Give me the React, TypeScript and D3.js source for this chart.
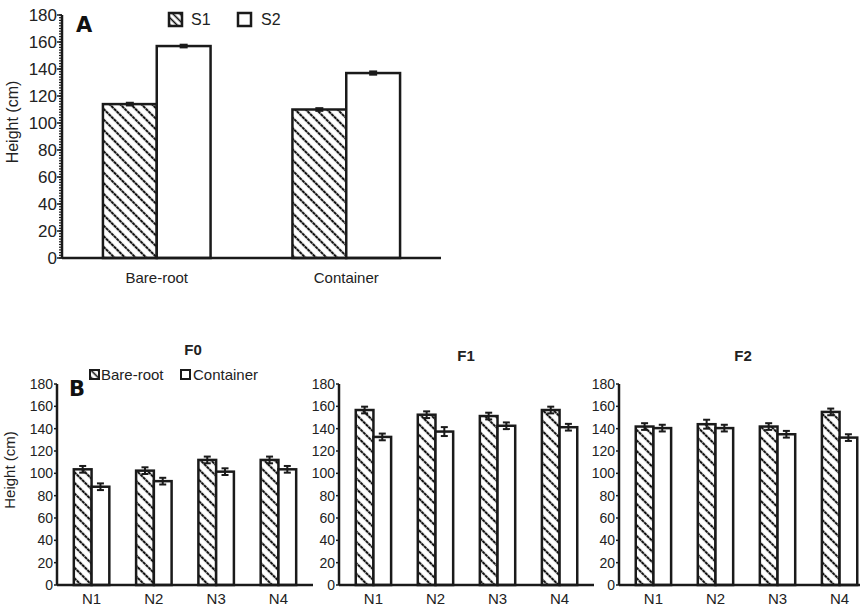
import React from "react";
import * as d3 from "d3";

// Panel A: stock type × season
const stockTypes = ["Bare-root", "Container"];
const seasons = ["S1", "S2"];
const seasonS1 = [114, 110];
const seasonS2 = [157, 137];
const seasonS1Err = [1, 1];
const seasonS2Err = [1, 1.2];

// Panel B: fertilization level × nitrogen rate
const nLevels = ["N1", "N2", "N3", "N4"];
const fLevels = ["F0", "F1", "F2"];
const bareRoot = [
  [103.6, 102.4, 112, 112],
  [156.7, 152.5, 151.3, 156.7],
  [141.9, 144, 141.9, 155],
];
const container = [
  [88, 93, 101.5, 103.6],
  [132.6, 137.4, 142.6, 141.3],
  [140.5, 140.5, 135, 132],
];
const bareRootErr = [
  [3, 3, 3, 3],
  [3, 3, 3, 3],
  [3, 4, 3, 3],
];
const containerErr = [
  [3, 3, 3, 3],
  [3, 4, 3, 3],
  [3, 3, 3, 3],
];
const yTicks = [0, 20, 40, 60, 80, 100, 120, 140, 160, 180];

const FONT = "Liberation Sans";
const HEAVY = "DejaVu Sans";

function ErrorBar({ x, y0, y1, w }: { x: number; y0: number; y1: number; w: number }) {
  return (
    <g stroke="#1a1a1a" strokeWidth={2}>
      <line x1={x} x2={x} y1={y0} y2={y1} />
      <line x1={x - w / 2} x2={x + w / 2} y1={y0} y2={y0} />
      <line x1={x - w / 2} x2={x + w / 2} y1={y1} y2={y1} />
    </g>
  );
}

function PanelA() {
  const x0 = 62;
  const yScale = d3.scaleLinear().domain([0, 180]).range([258, 15]);
  const xGroup = d3.scaleBand().domain(stockTypes).range([x0, 441]).paddingInner(0.432).paddingOuter(0.216);
  const xSub = d3.scaleBand().domain(seasons).range([0, xGroup.bandwidth()]);
  const minor = d3.range(0, 181, 2);
  const vals = [seasonS1, seasonS2];
  const errs = [seasonS1Err, seasonS2Err];
  return (
    <g>
      {stockTypes.map((st, i) =>
        seasons.map((s, j) => {
          const v = vals[j][i];
          const e = errs[j][i];
          const bx = (xGroup(st) as number) + (xSub(s) as number);
          const bw = xSub.bandwidth();
          return (
            <g key={st + s}>
              <rect x={bx} y={yScale(v)} width={bw} height={yScale(0) - yScale(v)}
                fill={j === 0 ? "url(#hatch)" : "#fff"} stroke="#1a1a1a" strokeWidth={2.5} />
              <ErrorBar x={bx + bw / 2} y0={yScale(v + e)} y1={yScale(v - e)} w={8} />
            </g>
          );
        })
      )}
      {/* axes */}
      <line x1={x0} x2={441} y1={yScale(0)} y2={yScale(0)} stroke="#1a1a1a" strokeWidth={2.5} />
      <line x1={x0} x2={x0} y1={yScale(0)} y2={yScale(180)} stroke="#1a1a1a" strokeWidth={2.5} />
      {minor.map((t) => (
        <line key={t} x1={x0 - 3} x2={x0} y1={yScale(t)} y2={yScale(t)} stroke="#1a1a1a" strokeWidth={1.2} />
      ))}
      {yTicks.map((t) => (
        <g key={t}>
          <line x1={x0 - 5} x2={x0} y1={yScale(t)} y2={yScale(t)} stroke="#1a1a1a" strokeWidth={1.5} />
          <text x={x0 - 5} y={yScale(t)} dy="0.35em" textAnchor="end" fontSize={17} fontFamily={FONT} fill="#222">
            {t}
          </text>
        </g>
      ))}
      {stockTypes.map((st) => (
        <text key={st} x={(xGroup(st) as number) + xGroup.bandwidth() / 2} y={283} textAnchor="middle"
          fontSize={15} fontFamily={FONT} fill="#222">
          {st}
        </text>
      ))}
      <text transform={`translate(18,${122}) rotate(-90)`} textAnchor="middle" fontSize={16} fontFamily={FONT} fill="#222">
        Height (cm)
      </text>
      <text x={76} y={32} fontSize={21} fontWeight={900} fontFamily={HEAVY} fill="#111">A</text>
      {/* legend */}
      <rect x={169} y={13} width={13} height={13} fill="url(#hatchSmall)" stroke="#1a1a1a" strokeWidth={2.5} />
      <text x={191} y={25} fontSize={16} fontFamily={FONT} fill="#222">S1</text>
      <rect x={238} y={13} width={13} height={13} fill="#fff" stroke="#1a1a1a" strokeWidth={2.5} />
      <text x={261} y={25} fontSize={16} fontFamily={FONT} fill="#222">S2</text>
    </g>
  );
}

function PanelB({ fi, x0, xEnd, showLabel }: { fi: number; x0: number; xEnd: number; showLabel: boolean }) {
  const yScale = d3.scaleLinear().domain([0, 180]).range([585, 384]);
  const xGroup = d3.scaleBand().domain(nLevels).range([x0, xEnd]).paddingInner(0.43).paddingOuter(0.27);
  const xSub = d3.scaleBand().domain(["Bare-root", "Container"]).range([0, xGroup.bandwidth()]);
  const series = [bareRoot[fi], container[fi]];
  const errs = [bareRootErr[fi], containerErr[fi]];
  return (
    <g>
      {nLevels.map((n, i) =>
        ["Bare-root", "Container"].map((s, j) => {
          const v = series[j][i];
          const e = errs[j][i];
          const bx = (xGroup(n) as number) + (xSub(s) as number);
          const bw = xSub.bandwidth();
          return (
            <g key={n + s}>
              <rect x={bx} y={yScale(v)} width={bw} height={yScale(0) - yScale(v)}
                fill={j === 0 ? "url(#hatch)" : "#fff"} stroke="#1a1a1a" strokeWidth={2.5} />
              <ErrorBar x={bx + bw / 2} y0={yScale(v + e)} y1={yScale(v - e)} w={7} />
            </g>
          );
        })
      )}
      <line x1={x0} x2={xEnd} y1={yScale(0)} y2={yScale(0)} stroke="#1a1a1a" strokeWidth={2.5} />
      <line x1={x0} x2={x0} y1={yScale(0)} y2={yScale(180)} stroke="#1a1a1a" strokeWidth={2.5} />
      {yTicks.map((t) => (
        <g key={t}>
          <line x1={x0 - 3} x2={x0} y1={yScale(t)} y2={yScale(t)} stroke="#1a1a1a" strokeWidth={1.5} />
          <text x={x0 - 4} y={yScale(t)} dy="0.35em" textAnchor="end" fontSize={14} fontFamily={FONT} fill="#222">
            {t}
          </text>
        </g>
      ))}
      {nLevels.map((n) => (
        <text key={n} x={(xGroup(n) as number) + xGroup.bandwidth() / 2} y={604} textAnchor="middle"
          fontSize={15} fontFamily={FONT} fill="#222">
          {n}
        </text>
      ))}
      {showLabel && (
        <text transform={`translate(15,${470}) rotate(-90)`} textAnchor="middle" fontSize={15} fontFamily={FONT} fill="#222">
          Height (cm)
        </text>
      )}
    </g>
  );
}

export default function App() {
  const panels = [
    { x0: 57, xEnd: 313, title: 193 },
    { x0: 339, xEnd: 594, title: 466 },
    { x0: 619, xEnd: 874, title: 743 },
  ];
  return (
    <svg width={860} height={609} style={{ position: "absolute", left: 0, top: 0, background: "#fff" }}>
      <defs>
        <pattern id="hatch" width={7.5} height={7.5} patternUnits="userSpaceOnUse" patternTransform="rotate(-45)">
          <rect width={7.5} height={7.5} fill="#fff" />
          <line x1={3.75} x2={3.75} y1={0} y2={7.5} stroke="#111" strokeWidth={2.1} strokeDasharray="3.2 0.55" />
        </pattern>
        <pattern id="hatchSmall" width={5} height={5} patternUnits="userSpaceOnUse" patternTransform="rotate(-45)">
          <rect width={5} height={5} fill="#fff" />
          <line x1={2.5} x2={2.5} y1={0} y2={5} stroke="#111" strokeWidth={1.6} />
        </pattern>
      </defs>
      <rect width={860} height={609} fill="#fff" />
      <PanelA />
      {fLevels.map((f, i) => (
        <g key={f}>
          <PanelB fi={i} x0={panels[i].x0} xEnd={panels[i].xEnd} showLabel={i === 0} />
          <text x={panels[i].title} y={i === 0 ? 355 : 361} textAnchor="middle" fontSize={15} fontWeight="bold"
            fontFamily={FONT} fill="#222">
            {f}
          </text>
        </g>
      ))}
      {/* panel B legend and letter */}
      <text x={69} y={396} fontSize={21} fontWeight={900} fontFamily={HEAVY} fill="#111">B</text>
      <rect x={90} y={370} width={9} height={9} fill="url(#hatchSmall)" stroke="#1a1a1a" strokeWidth={2} />
      <text x={101} y={380} fontSize={15} fontFamily={FONT} fill="#222">Bare-root</text>
      <rect x={181} y={370} width={9} height={9} fill="#fff" stroke="#1a1a1a" strokeWidth={2} />
      <text x={193} y={380} fontSize={15} fontFamily={FONT} fill="#222">Container</text>
    </svg>
  );
}
